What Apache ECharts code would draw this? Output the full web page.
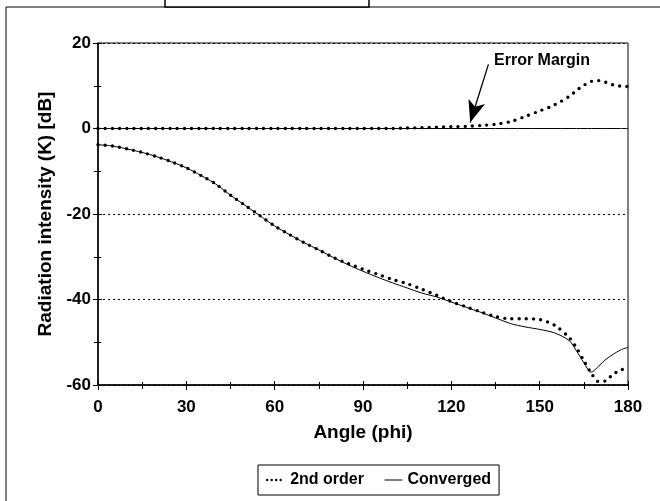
<!DOCTYPE html>
<html>
<head>
<meta charset="utf-8">
<script src="https://cdn.jsdelivr.net/npm/echarts@6/dist/echarts.min.js"></script>
<style>
html,body{margin:0;padding:0;background:#fff;}
#chart{width:660px;height:501px;}
</style>
</head>
<body>
<div id="chart"></div>
<script>
// Angles (degrees)
var angles = [0,5,10,15,20,25,30,35,40,45,50,55,60,65,70,75,80,85,90,95,100,105,110,115,120,125,130,135,140,145,150,155,160,162.5,165,167.5,170,172.5,175,177.5,180];
// 2nd order, main beam (dB)
var secondOrderLower = [-3.8,-4.1,-4.8,-5.6,-6.6,-7.8,-9.2,-11.0,-13.0,-15.6,-18.0,-20.4,-22.8,-24.8,-26.7,-28.4,-30.2,-31.6,-32.9,-34.1,-35.3,-36.3,-37.6,-39.0,-40.5,-41.7,-42.9,-44.0,-44.5,-44.5,-44.7,-46.0,-48.9,-51.3,-54.3,-57.2,-59.2,-59.0,-57.4,-56.6,-55.6];
// Converged, main beam (dB)
var convergedLower = [-3.8,-4.1,-4.8,-5.6,-6.6,-7.8,-9.2,-11.0,-13.0,-15.6,-18.0,-20.4,-22.8,-24.8,-26.7,-28.4,-30.2,-31.9,-33.4,-34.8,-36.1,-37.3,-38.5,-39.4,-40.6,-41.8,-43.0,-44.3,-45.6,-46.4,-47.0,-47.8,-49.6,-52.0,-54.8,-57.0,-55.6,-54.0,-52.8,-51.8,-51.2];
// 2nd order, error margin (dB)
var secondOrderUpper = [0,0,0,0,0,0,0,0,0,0,0,0,0,0,0,0,0,0,0,0,0,0.1,0.2,0.3,0.4,0.5,0.7,1.0,1.6,2.8,4.1,5.5,7.5,8.9,10.1,11.0,11.2,10.8,10.2,9.9,9.8];
// Converged, error margin (dB)
var convergedUpper = [0,0,0,0,0,0,0,0,0,0,0,0,0,0,0,0,0,0,0,0,0,0,0,0,0,0,0,0,0,0,0,0,0,0,0,0,0,0,0,0,0];

var xTicks = [0,30,60,90,120,150,180];
var yTicks = [-60,-40,-20,0,20];
var seriesNames = ['2nd order','Converged'];
var annotationText = 'Error Margin';
var arrowFrom = [132.6,15.0];
var arrowTo = [126.4,1.4];
var annotationPos = [150.8,16.0];

function pairs(vals){ return angles.map(function(a,i){ return [a, vals[i]]; }); }

var FONT = '"Liberation Sans", Arial, sans-serif';
var dotted = {color:'#000', width:3.4, type:[0,7.2], cap:'round', join:'round'};
var solid = {color:'#000', width:1};

var xMin = xTicks[0], xMax = xTicks[xTicks.length-1];
var yMin = yTicks[0], yMax = yTicks[yTicks.length-1];

var chart = echarts.init(document.getElementById('chart'), null, {renderer:'canvas'});
chart.setOption({
  animation:false,
  backgroundColor:'#fff',
  color:['#000','#000'],
  textStyle:{fontFamily:FONT},
  grid:{left:98, right:32, top:43, bottom:116, show:true, borderColor:'#000', borderWidth:1, backgroundColor:'transparent'},
  legend:{
    left:258, top:465, orient:'horizontal',
    data:[
      {name:seriesNames[0], lineStyle:{width:2.4, type:[0,4.5], cap:'round', color:'#000'}},
      {name:seriesNames[1], lineStyle:{width:1, type:'solid', color:'#000'}}
    ],
    padding:[7,8,7,8], itemGap:20, itemWidth:18, itemHeight:10,
    itemStyle:{opacity:0},
    borderColor:'#000', borderWidth:1, backgroundColor:'#fff',
    textStyle:{fontFamily:FONT, fontWeight:'bold', fontSize:16, color:'#000'}
  },
  xAxis:[{
    type:'value', min:xMin, max:xMax, interval:30,
    name:'Angle (phi)', nameLocation:'middle', nameGap:38,
    nameTextStyle:{fontFamily:FONT, fontWeight:'bold', fontSize:19, color:'#000'},
    axisLine:{show:true, onZero:false, lineStyle:{color:'#000', width:1.5}},
    axisTick:{show:true, length:5, lineStyle:{color:'#000'}},
    minorTick:{show:true, splitNumber:2, length:4, lineStyle:{color:'#000'}},
    axisLabel:{fontFamily:FONT, fontWeight:'bold', fontSize:17, color:'#000', margin:14},
    splitLine:{show:false}
  },{
    type:'value', min:xMin, max:xMax, interval:30, position:'bottom',
    axisLine:{show:false, onZero:false},
    axisTick:{show:true, inside:true, length:4, lineStyle:{color:'#000'}},
    minorTick:{show:true, splitNumber:2, length:3, lineStyle:{color:'#000'}},
    axisLabel:{show:false}, splitLine:{show:false}
  }],
  yAxis:[{
    type:'value', min:yMin, max:yMax, interval:20,
    name:'Radiation intensity (K) [dB]', nameLocation:'middle', nameGap:43,
    nameTextStyle:{fontFamily:FONT, fontWeight:'bold', fontSize:19, color:'#000'},
    axisLine:{show:true, onZero:false, lineStyle:{color:'#000', width:1.5}},
    axisTick:{show:true, length:5, lineStyle:{color:'#000'}},
    minorTick:{show:true, splitNumber:2, length:4, lineStyle:{color:'#000'}},
    axisLabel:{fontFamily:FONT, fontWeight:'bold', fontSize:17, color:'#000', margin:7},
    splitLine:{show:true, lineStyle:{color:'#000', width:1, type:[2,3]}}
  },{
    type:'value', min:yMin, max:yMax, interval:20, position:'left',
    axisLine:{show:false, onZero:false},
    axisTick:{show:true, inside:true, length:4, lineStyle:{color:'#000'}},
    minorTick:{show:true, splitNumber:2, length:3, lineStyle:{color:'#000'}},
    axisLabel:{show:false}, splitLine:{show:false}
  }],
  series:[
    {name:seriesNames[1], type:'line', data:pairs(convergedLower), smooth:0.3, symbol:'none', itemStyle:{color:'#000'}, lineStyle:solid, z:3},
    {name:seriesNames[1], type:'line', data:pairs(convergedUpper), smooth:0.3, symbol:'none', itemStyle:{color:'#000'}, lineStyle:solid, z:3},
    {name:seriesNames[0], type:'line', data:pairs(secondOrderLower), smooth:0.3, symbol:'none', itemStyle:{color:'#000'}, lineStyle:dotted, z:4},
    {name:seriesNames[0], type:'line', data:pairs(secondOrderUpper), smooth:0.3, symbol:'none', itemStyle:{color:'#000'}, lineStyle:dotted, z:4,
      markLine:{
        silent:true, symbol:['none','arrow'], symbolSize:[13,22],
        lineStyle:{color:'#000', width:1.3, type:'solid'},
        label:{show:false},
        data:[[{coord:arrowFrom},{coord:arrowTo}]]
      },
      markPoint:{
        silent:true, symbol:'circle', symbolSize:1, itemStyle:{color:'rgba(0,0,0,0)'},
        label:{show:true, position:'inside', formatter:annotationText, fontFamily:FONT, fontWeight:'bold', fontSize:16, color:'#000'},
        data:[{coord:annotationPos}]
      }
    }
  ],
  graphic:[
    {type:'line', shape:{x1:6, y1:7, x2:660, y2:7}, style:{stroke:'#000', lineWidth:1}},
    {type:'line', shape:{x1:6, y1:7, x2:6, y2:501}, style:{stroke:'#000', lineWidth:1}},
    {type:'rect', shape:{x:165, y:-2, width:204, height:9}, style:{fill:'#fff', stroke:'#000', lineWidth:1.5}}
  ]
});
</script>
</body>
</html>
